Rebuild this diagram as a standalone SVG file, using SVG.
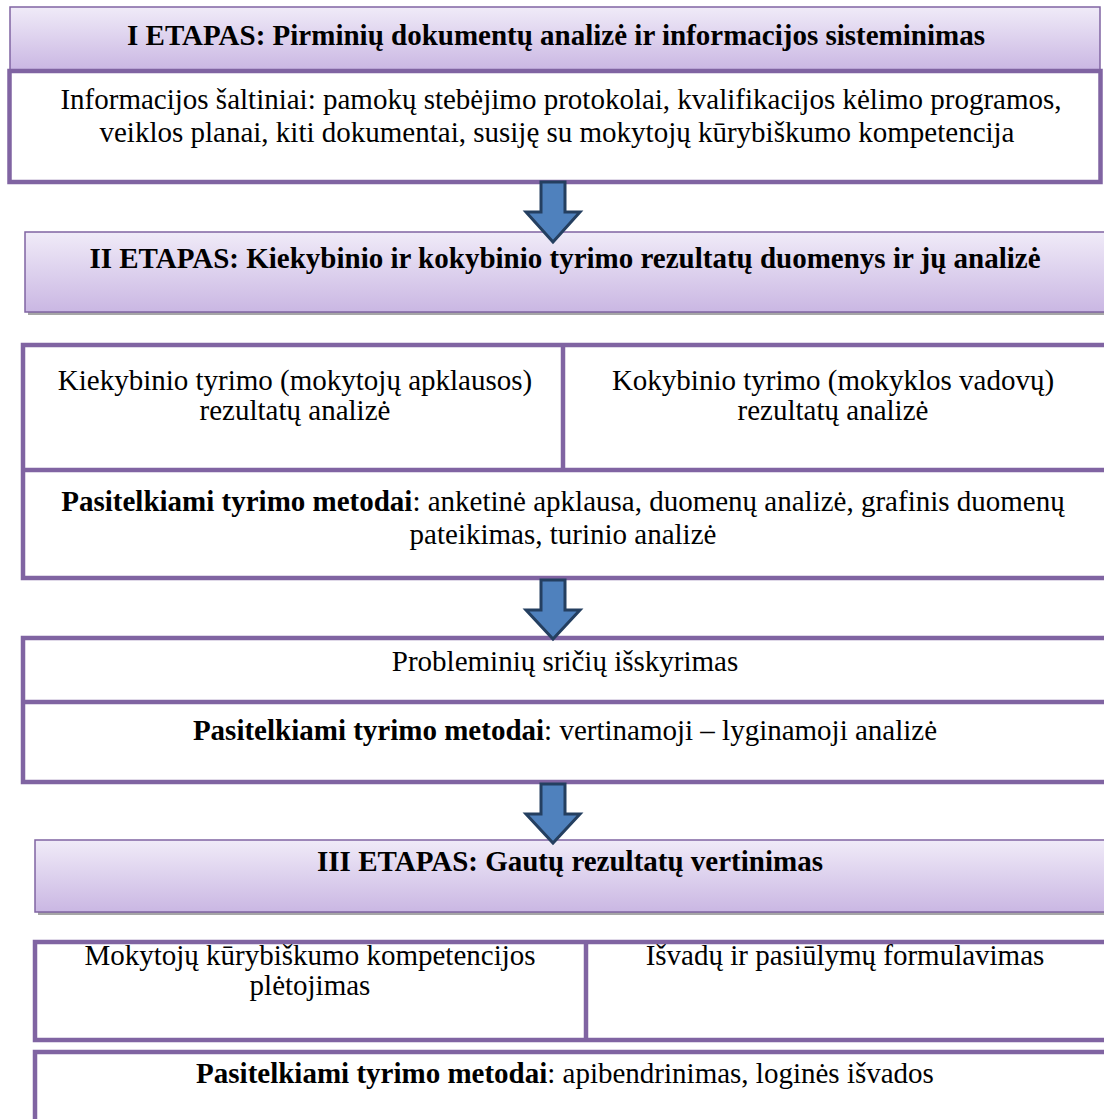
<svg xmlns="http://www.w3.org/2000/svg" width="1104" height="1119" viewBox="0 0 1104 1119">
<style>
text{font-family:"Times New Roman","Liberation Serif",Tinos,"Nimbus Roman","DejaVu Serif",serif;font-size:29px;font-weight:normal;font-style:normal;fill:#000;text-anchor:middle}
.h{font-weight:bold}
.b{font-weight:bold}
.hdr{fill:url(#g);stroke:#8064a2;stroke-width:1.5}
.shadow{fill:#a6a6a6}
.box{fill:#fff;stroke:#8064a2;stroke-width:4.5}
.div{stroke:#8064a2;stroke-width:4.5;fill:none}
.arrow{fill:#4f81bd;stroke:#243f60;stroke-width:3;stroke-linejoin:miter}
</style>
<defs>
<linearGradient id="g" x1="0" y1="0" x2="0" y2="1">
<stop offset="0" stop-color="#f0ebf8"/>
<stop offset="1" stop-color="#cab7e3"/>
</linearGradient>
</defs>
<rect width="1104" height="1119" fill="#fff"/>

<g id="stage1-header">
<rect class="hdr" x="10" y="7" width="1090" height="63"/>
<text class="h" x="556" y="45">I ETAPAS: Pirminių dokumentų analizė ir informacijos sisteminimas</text>
</g>
<g id="stage1-sources">
<rect class="box" x="9.5" y="71" width="1091" height="111"/>
<text x="561" y="109">Informacijos šaltiniai: pamokų stebėjimo protokolai, kvalifikacijos kėlimo programos,</text>
<text x="557" y="142">veiklos planai, kiti dokumentai, susiję su mokytojų kūrybiškumo kompetencija</text>
</g>

<g id="stage2-header">
<rect class="shadow" x="28" y="235" width="1090" height="80"/>
<rect class="hdr" x="25" y="232" width="1090" height="80"/>
<text class="h" x="565" y="268">II ETAPAS: Kiekybinio ir kokybinio tyrimo rezultatų duomenys ir jų analizė</text>
</g>

<g id="stage2-analysis">
<rect class="box" x="23" y="345" width="1090" height="233"/>
<line class="div" x1="23" y1="470" x2="1113" y2="470"/>
<line class="div" x1="563" y1="345" x2="563" y2="470"/>
<text x="295" y="390">Kiekybinio tyrimo (mokytojų apklausos)</text>
<text x="295" y="420">rezultatų analizė</text>
<text x="833" y="390">Kokybinio tyrimo (mokyklos vadovų)</text>
<text x="833" y="420">rezultatų analizė</text>
<text x="563" y="511"><tspan class="b">Pasitelkiami tyrimo metodai</tspan>: anketinė apklausa, duomenų analizė, grafinis duomenų</text>
<text x="563" y="544">pateikimas, turinio analizė</text>
</g>

<g id="stage2-problems">
<rect class="box" x="23" y="638" width="1090" height="144"/>
<line class="div" x1="23" y1="702" x2="1113" y2="702"/>
<text x="565" y="671">Probleminių sričių išskyrimas</text>
<text x="565" y="740"><tspan class="b">Pasitelkiami tyrimo metodai</tspan>: vertinamoji – lyginamoji analizė</text>
</g>

<g id="stage3-header">
<rect class="shadow" x="38" y="843" width="1080" height="72"/>
<rect class="hdr" x="35" y="840" width="1080" height="72"/>
<text class="h" x="570" y="871">III ETAPAS: Gautų rezultatų vertinimas</text>
</g>

<g id="stage3-results">
<rect class="box" x="35" y="942" width="1080" height="98"/>
<line class="div" x1="586" y1="942" x2="586" y2="1040"/>
<text x="310" y="965">Mokytojų kūrybiškumo kompetencijos</text>
<text x="310" y="995">plėtojimas</text>
<text x="845" y="965">Išvadų ir pasiūlymų formulavimas</text>
</g>

<g id="stage3-methods">
<rect class="box" x="35" y="1052" width="1080" height="90"/>
<text x="565" y="1083"><tspan class="b">Pasitelkiami tyrimo metodai</tspan>: apibendrinimas, loginės išvados</text>
</g>

<g id="connectors">
<path class="arrow" d="M541,182 H565 V212 H580 L553,242 L526,212 H541 Z"/>
<path class="arrow" d="M541,580 H565 V610 H580 L553,639 L526,610 H541 Z"/>
<path class="arrow" d="M541,784 H565 V814 H580 L553,843 L526,814 H541 Z"/>
</g>
</svg>
